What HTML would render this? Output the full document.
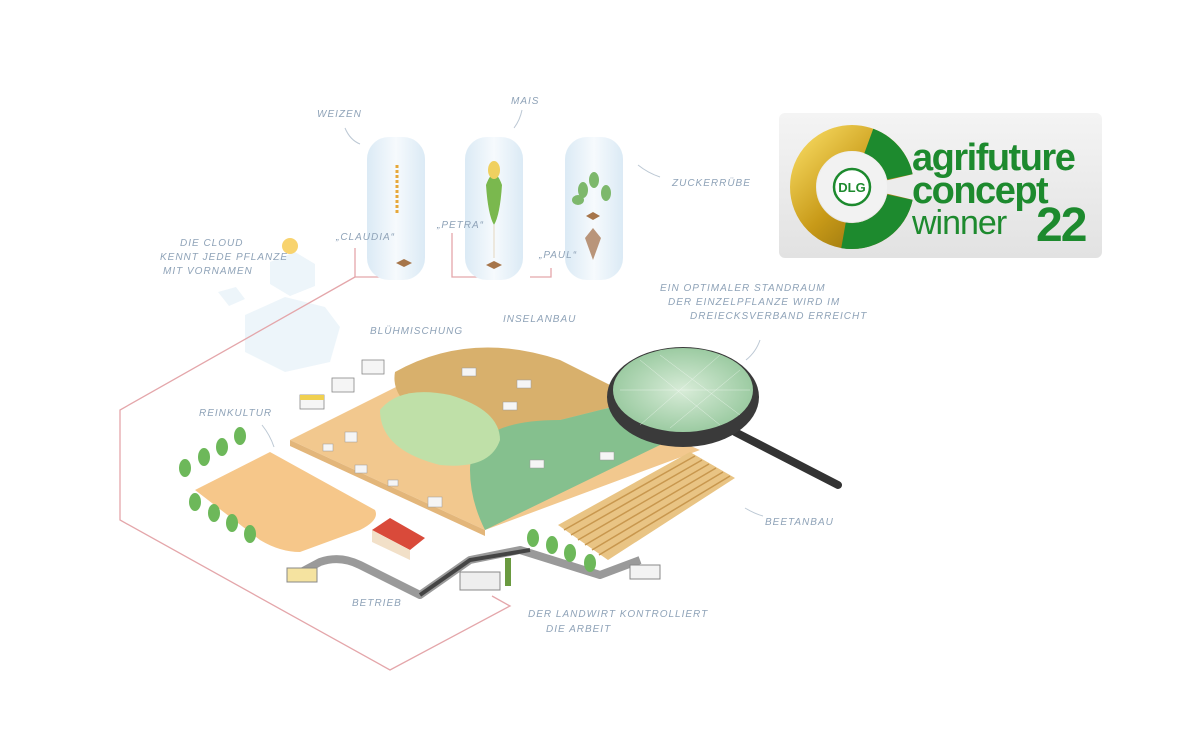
<!DOCTYPE html>
<html><head><meta charset="utf-8"><style>
html,body{margin:0;padding:0;background:#fff;}
svg{display:block}
.l{font-family:"Liberation Sans",sans-serif;font-style:italic;fill:#8fa3b8;font-size:10px;letter-spacing:1px}
</style></head><body>
<svg width="1200" height="743" viewBox="0 0 1200 743" xmlns="http://www.w3.org/2000/svg">
<defs>
<linearGradient id="cyl" x1="0" x2="1"><stop offset="0" stop-color="#dbeaf5"/><stop offset=".5" stop-color="#f6fafd"/><stop offset="1" stop-color="#dbeaf5"/></linearGradient>
<linearGradient id="box" x1="0" y1="0" x2="0" y2="1"><stop offset="0" stop-color="#f4f4f4"/><stop offset="1" stop-color="#e2e2e2"/></linearGradient>
<linearGradient id="gold" x1="0" y1="0" x2="1" y2="1"><stop offset="0" stop-color="#f3d45a"/><stop offset=".5" stop-color="#c89a18"/><stop offset="1" stop-color="#8a6a0c"/></linearGradient>
<radialGradient id="lens"><stop offset="0" stop-color="#d8ecd8"/><stop offset="1" stop-color="#9ccba2"/></radialGradient>
</defs>

<g fill="#e6f1f8" opacity=".7">
<path d="M270 262 l25 -10 20 12 0 22 -25 10 -20 -12z"/>
<path d="M245 315 l40 -18 40 10 15 20 -10 35 -45 10 -40 -20z"/>
<path d="M218 292 l18 -5 9 12 -16 7z"/>
</g>
<circle cx="290" cy="246" r="8" fill="#f6c84a" opacity=".8"/>

<polyline points="355,277 120,410 120,520 390,670 510,606 492,596" fill="none" stroke="#e4a6aa" stroke-width="1.3"/>
<polyline points="355,248 355,277 400,277" fill="none" stroke="#e4a6aa" stroke-width="1.3"/>
<polyline points="452,233 452,277 500,277" fill="none" stroke="#e4a6aa" stroke-width="1.3"/>
<polyline points="530,277 551,277 551,268" fill="none" stroke="#e4a6aa" stroke-width="1.3"/>

<g>
<rect x="367" y="137" width="58" height="143" rx="22" fill="url(#cyl)"/>
<rect x="465" y="137" width="58" height="143" rx="22" fill="url(#cyl)"/>
<rect x="565" y="137" width="58" height="143" rx="22" fill="url(#cyl)"/>
<line x1="397" y1="165" x2="397" y2="215" stroke="#e6a83a" stroke-width="3" stroke-dasharray="3 2"/>
<path d="M396 263 l8 -4 8 4 -8 4z" fill="#a6754a"/>
<path d="M486 185 q8 -22 16 0 q-2 30 -8 40 q-6 -10 -8 -40z" fill="#7ab84e"/>
<ellipse cx="494" cy="170" rx="6" ry="9" fill="#f0d060"/>
<line x1="494" y1="225" x2="494" y2="258" stroke="#e4d6c0"/>
<path d="M486 265 l8 -4 8 4 -8 4z" fill="#a6754a"/>
<ellipse cx="594" cy="180" rx="5" ry="8" fill="#7db86c"/>
<ellipse cx="583" cy="190" rx="5" ry="8" fill="#7db86c"/>
<ellipse cx="606" cy="193" rx="5" ry="8" fill="#7db86c"/>
<ellipse cx="578" cy="200" rx="6" ry="5" fill="#7db86c"/>
<path d="M586 216 l7 -4 7 4 -7 4z" fill="#a6754a"/>
<path d="M585 238 l8 -10 8 10 -8 22z" fill="#b9957a"/>
</g>
<path d="M345 128 q5 12 15 16" stroke="#bcc8d4" fill="none"/>
<path d="M522 110 q-2 10 -8 18" stroke="#bcc8d4" fill="none"/>
<path d="M638 165 q10 8 22 12" stroke="#bcc8d4" fill="none"/>

<text class="l" x="317" y="117" font-size="11">WEIZEN</text>
<text class="l" x="511" y="104" font-size="11">MAIS</text>
<text class="l" x="672" y="186" font-size="11">ZUCKERRÜBE</text>
<text class="l" x="336" y="240" font-size="9">„CLAUDIA“</text>
<text class="l" x="437" y="228" font-size="9">„PETRA“</text>
<text class="l" x="539" y="258" font-size="9">„PAUL“</text>
<text class="l" x="180" y="246" font-size="8">DIE CLOUD</text>
<text class="l" x="160" y="260" font-size="8">KENNT JEDE PFLANZE</text>
<text class="l" x="163" y="274" font-size="8">MIT VORNAMEN</text>
<text class="l" x="370" y="334" font-size="11">BLÜHMISCHUNG</text>
<text class="l" x="503" y="322" font-size="11">INSELANBAU</text>
<text class="l" x="660" y="291" font-size="8">EIN OPTIMALER STANDRAUM</text>
<text class="l" x="668" y="305" font-size="8">DER EINZELPFLANZE WIRD IM</text>
<text class="l" x="690" y="319" font-size="8">DREIECKSVERBAND ERREICHT</text>
<text class="l" x="199" y="416" font-size="11">REINKULTUR</text>
<text class="l" x="765" y="525" font-size="11">BEETANBAU</text>
<text class="l" x="352" y="606" font-size="11">BETRIEB</text>
<text class="l" x="528" y="617" font-size="8">DER LANDWIRT KONTROLLIERT</text>
<text class="l" x="546" y="632" font-size="8">DIE ARBEIT</text>
<path d="M262 425 q8 10 12 22" stroke="#bcc8d4" fill="none"/>
<path d="M745 508 q10 6 18 8" stroke="#bcc8d4" fill="none"/>
<path d="M760 340 q-4 12 -14 20" stroke="#bcc8d4" fill="none"/>

<path d="M290 440 L470 350 L700 450 L485 530 Z" fill="#f2c88e"/>
<path d="M290 440 L290 446 L485 536 L485 530 Z" fill="#e3b67a"/>
<path d="M395 372 Q470 330 560 360 Q600 380 640 400 L560 420 Q480 440 430 420 Q390 400 395 372Z" fill="#d8b06c"/>
<path d="M470 470 Q470 420 560 420 L640 400 L660 445 L485 530 Q470 500 470 470Z" fill="#85c08e"/>
<path d="M380 410 Q400 385 450 395 Q500 410 500 440 Q490 470 440 465 Q380 450 380 410Z" fill="#bfe0a8"/>
<g fill="#f5f5f5" stroke="#999" stroke-width=".5">
<rect x="462" y="368" width="14" height="8"/><rect x="517" y="380" width="14" height="8"/><rect x="503" y="402" width="14" height="8"/>
<rect x="345" y="432" width="12" height="10"/><rect x="323" y="444" width="10" height="7"/><rect x="355" y="465" width="12" height="8"/>
<rect x="388" y="480" width="10" height="6"/><rect x="428" y="497" width="14" height="10"/><rect x="530" y="460" width="14" height="8"/><rect x="600" y="452" width="14" height="8"/>
</g>
<g fill="#f5f5f5" stroke="#888" stroke-width=".8">
<rect x="300" y="395" width="24" height="14"/><rect x="332" y="378" width="22" height="14"/><rect x="362" y="360" width="22" height="14"/>
</g>
<rect x="300" y="395" width="24" height="5" fill="#f0d050"/>

<path d="M195 490 L270 452 L375 510 Q380 520 360 530 L300 552 Q280 552 260 540 Z" fill="#f6c78a"/>
<path d="M558 525 L690 452 L735 478 L608 560 Z" fill="#e9c484"/>
<g stroke="#c8974e" stroke-width="1.5">
<line x1="564" y1="530" x2="695" y2="456"/><line x1="571" y1="535" x2="702" y2="460"/><line x1="578" y1="540" x2="709" y2="464"/><line x1="585" y1="545" x2="716" y2="468"/><line x1="592" y1="550" x2="723" y2="472"/><line x1="599" y1="555" x2="730" y2="476"/>
</g>
<path d="M290 578 L320 562 Q340 555 360 565 L420 595 L470 560 L520 550 L600 575 L640 560" fill="none" stroke="#9a9a9a" stroke-width="8" stroke-linejoin="round"/>
<path d="M420 595 L470 560 L530 550" fill="none" stroke="#444" stroke-width="4"/>
<path d="M372 530 L390 518 L425 538 L410 550Z" fill="#d94a3a"/>
<path d="M372 530 L410 550 L410 560 L372 542Z" fill="#f2e0c8"/>
<rect x="460" y="572" width="40" height="18" fill="#eee" stroke="#888"/>
<rect x="505" y="558" width="6" height="28" fill="#6a9a40"/>
<rect x="630" y="565" width="30" height="14" fill="#f3f3f3" stroke="#888"/>
<rect x="287" y="568" width="30" height="14" fill="#f5e3a0" stroke="#888"/>
<g fill="#6db85a">
<ellipse cx="185" cy="468" rx="6" ry="9"/><ellipse cx="204" cy="457" rx="6" ry="9"/><ellipse cx="222" cy="447" rx="6" ry="9"/><ellipse cx="240" cy="436" rx="6" ry="9"/>
<ellipse cx="195" cy="502" rx="6" ry="9"/><ellipse cx="214" cy="513" rx="6" ry="9"/><ellipse cx="232" cy="523" rx="6" ry="9"/><ellipse cx="250" cy="534" rx="6" ry="9"/>
<ellipse cx="533" cy="538" rx="6" ry="9"/><ellipse cx="552" cy="545" rx="6" ry="9"/><ellipse cx="570" cy="553" rx="6" ry="9"/><ellipse cx="590" cy="563" rx="6" ry="9"/>
</g>
<line x1="735" y1="432" x2="838" y2="485" stroke="#333" stroke-width="8" stroke-linecap="round"/>
<ellipse cx="683" cy="397" rx="76" ry="50" fill="#3a3a3a"/>
<ellipse cx="683" cy="390" rx="70" ry="42" fill="url(#lens)"/>
<g stroke="#fff" stroke-width=".5" opacity=".6">
<line x1="640" y1="360" x2="720" y2="425"/><line x1="660" y1="355" x2="740" y2="415"/><line x1="720" y1="355" x2="640" y2="425"/><line x1="740" y1="370" x2="670" y2="428"/><line x1="620" y1="390" x2="750" y2="390"/>
</g>

<rect x="779" y="113" width="323" height="145" rx="6" fill="url(#box)"/>
<circle cx="852" cy="187" r="49" fill="none" stroke="url(#gold)" stroke-width="26"/>
<path d="M868.8 141 A49 49 0 0 1 899.9 176.8" fill="none" stroke="#1d8a2e" stroke-width="26"/>
<path d="M899.9 197.2 A49 49 0 0 1 843.5 235.3" fill="none" stroke="#1d8a2e" stroke-width="26"/>
<path d="M884 181 L918 173 L918 201 L884 193 Z" fill="#ececec"/>
<circle cx="852" cy="187" r="35" fill="#f2f2f2"/>
<circle cx="852" cy="187" r="18" fill="#fff" stroke="#1d8a2e" stroke-width="2.5"/>
<text x="852" y="192" text-anchor="middle" font-family="Liberation Sans,sans-serif" font-weight="bold" font-size="13" fill="#1d8a2e">DLG</text>
<g font-family="Liberation Sans,sans-serif" fill="#1d8a2e">
<text x="912" y="170" font-size="38" font-weight="bold" letter-spacing="-1.5">agrifuture</text>
<text x="912" y="203" font-size="38" font-weight="bold" letter-spacing="-1.5">concept</text>
<text x="912" y="234" font-size="34" letter-spacing="-1">winner</text>
<text x="1036" y="241" font-size="48" font-weight="bold" letter-spacing="-2">22</text>
</g>
</svg>
</body></html>
